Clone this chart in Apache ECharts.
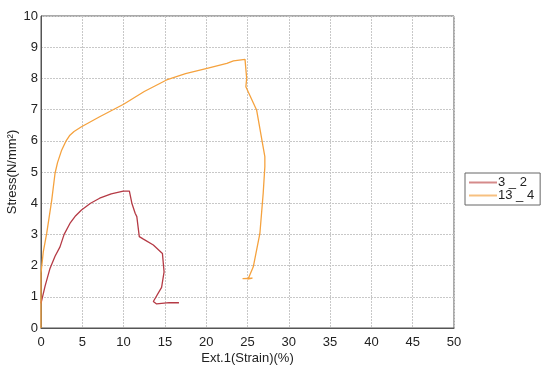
<!DOCTYPE html>
<html><head><meta charset="utf-8">
<script src="https://cdn.jsdelivr.net/npm/echarts@6/dist/echarts.min.js"></script>
<style>html,body{margin:0;padding:0;background:#fff}#c{width:550px;height:374px}</style>
</head><body><div id="c"></div>
<script>
const seriesNames = ['3 _ 2', '13 _ 4'];
const strain32 = [0, 0.5, 1.09, 1.7, 2.3, 2.8, 3.5, 4.2, 4.9, 6.0, 7.1, 8.5, 9.96, 10.7, 11.0, 11.4, 11.6, 11.9, 12.4, 13.6, 14.7, 14.9, 14.6, 13.6, 14.0, 15.5, 16.7];
const stress32 = [0.79, 1.35, 1.91, 2.3, 2.6, 3.0, 3.35, 3.6, 3.78, 4.0, 4.16, 4.3, 4.39, 4.39, 4.0, 3.68, 3.57, 2.93, 2.85, 2.66, 2.39, 1.8, 1.3, 0.85, 0.77, 0.81, 0.81];
const strain134 = [0, 0, 0.28, 0.69, 1.3, 1.7, 2.0, 2.5, 3.0, 3.5, 4.0, 4.9, 7.1, 10.0, 12.5, 15.2, 17.5, 20.1, 22.5, 23.3, 24.7, 24.8, 24.9, 24.8, 26.1, 27.1, 27.1, 26.9, 26.5, 25.7, 25.1, 24.4, 25.6, 25.0];
const stress134 = [0, 1.76, 2.45, 3.03, 4.1, 4.96, 5.3, 5.7, 5.98, 6.18, 6.3, 6.45, 6.77, 7.17, 7.58, 7.95, 8.15, 8.32, 8.48, 8.56, 8.61, 8.55, 8.0, 7.73, 6.99, 5.49, 5.17, 4.32, 3.03, 1.96, 1.59, 1.58, 1.6, 1.57];
const xTicks = [0, 5, 10, 15, 20, 25, 30, 35, 40, 45, 50];
const yTicks = [0, 1, 2, 3, 4, 5, 6, 7, 8, 9, 10];

const zip = (a, b) => a.map((v, i) => [v, b[i]]);
const chart = echarts.init(document.getElementById('c'));
const font = 'Liberation Sans, Arial, sans-serif';
chart.setOption({
  animation: false,
  grid: { left: 41, right: 96, top: 16, bottom: 46, containLabel: false, outerBoundsMode: 'none',
          show: true, borderColor: '#555', borderWidth: 1 },
  legend: {
    orient: 'vertical', left: 465, top: 173, itemGap: 0, itemWidth: 28, itemHeight: 2,
    borderColor: '#666', borderWidth: 1, padding: [3, 6, 3, 4], borderRadius: 0,
    textStyle: { fontFamily: font, fontSize: 13, color: '#222', padding: [0, 0, 0, -4] },
    icon: 'rect',
    data: seriesNames
  },
  xAxis: {
    type: 'value', min: xTicks[0], max: xTicks[xTicks.length - 1], interval: 5,
    name: 'Ext.1(Strain)(%)', nameLocation: 'middle', nameGap: 24, nameMoveOverlap: false,
    nameTextStyle: { fontFamily: font, fontSize: 13, color: '#222' },
    axisLine: { lineStyle: { color: '#555' } }, axisTick: { show: false },
    axisLabel: { fontFamily: font, fontSize: 13, color: '#222', margin: 8 },
    splitLine: { lineStyle: { color: '#c8c8c8', type: [2, 1] } }
  },
  yAxis: {
    type: 'value', min: yTicks[0], max: yTicks[yTicks.length - 1], interval: 1,
    name: 'Stress(N/mm²)', nameLocation: 'middle', nameGap: 22, nameRotate: 90, nameMoveOverlap: false,
    nameTextStyle: { fontFamily: font, fontSize: 13, color: '#222' },
    axisLine: { show: true, lineStyle: { color: '#555' } }, axisTick: { show: false },
    axisLabel: { fontFamily: font, fontSize: 13, color: '#222', margin: 3 },
    splitLine: { lineStyle: { color: '#c8c8c8', type: [2, 1] } }
  },
  series: [
    { name: seriesNames[0], type: 'line', data: zip(strain32, stress32), showSymbol: false,
      lineStyle: { color: '#b53a45', width: 1.3 }, itemStyle: { color: '#d58a8a' } },
    { name: seriesNames[1], type: 'line', data: zip(strain134, stress134), showSymbol: false,
      lineStyle: { color: '#f5a23e', width: 1.3 }, itemStyle: { color: '#f7c080' } }
  ]
});
</script></body></html>
